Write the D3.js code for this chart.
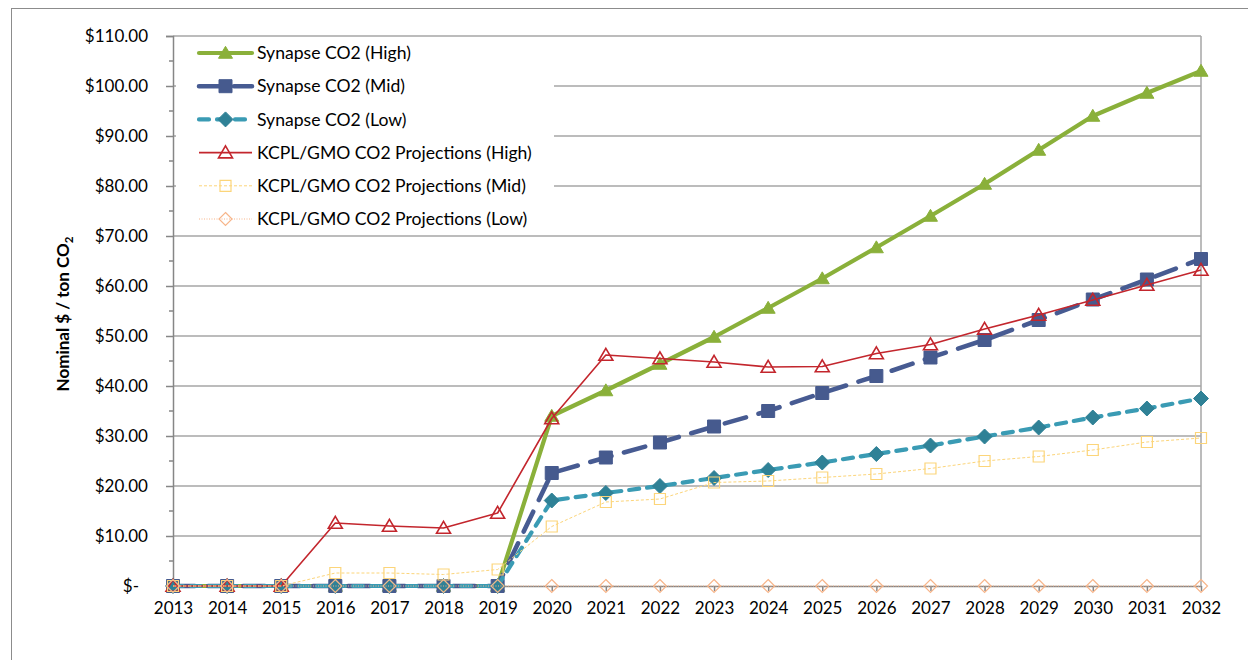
<!DOCTYPE html>
<html>
<head>
<meta charset="utf-8">
<script src="https://cdn.jsdelivr.net/npm/d3@7"></script>
<style>
  html, body { margin: 0; padding: 0; background: #fff; }
  svg { display: block; font-family: Lato, "Open Sans", sans-serif; }
</style>
</head>
<body>
<svg id="chart" width="1248" height="660"></svg>
<script>
// Carbon price projections, nominal $ per ton CO2
const years = ["2013","2014","2015","2016","2017","2018","2019","2020","2021","2022",
               "2023","2024","2025","2026","2027","2028","2029","2030","2031","2032"];

const synapseHigh = [0,0,0,0,0,0,0,34.0,39.1,44.4,49.8,55.6,61.5,67.7,74.0,80.4,87.2,94.0,98.6,103.0];
const synapseMid  = [0,0,0,0,0,0,0,22.6,25.7,28.7,31.9,35.0,38.6,42.0,45.7,49.2,53.2,57.3,61.3,65.4];
const synapseLow  = [0,0,0,0,0,0,0,17.1,18.6,20.0,21.6,23.2,24.7,26.4,28.1,29.9,31.7,33.7,35.5,37.5];
const kcplHigh    = [0,0,0,12.6,12.0,11.6,14.6,33.5,46.2,45.5,44.8,43.8,43.9,46.5,48.3,51.4,54.2,57.2,60.2,63.2];
const kcplMid     = [0,0,0,2.6,2.6,2.3,3.3,11.9,16.8,17.4,20.7,21.0,21.7,22.4,23.5,25.0,25.9,27.2,28.8,29.6];
const kcplLow     = [0,0,0,0,0,0,0,0,0,0,0,0,0,0,0,0,0,0,0,0];

const seriesNames = [
  "Synapse CO2 (High)",
  "Synapse CO2 (Mid)",
  "Synapse CO2 (Low)",
  "KCPL/GMO CO2 Projections (High)",
  "KCPL/GMO CO2 Projections (Mid)",
  "KCPL/GMO CO2 Projections (Low)"
];
const yTickValues = [0,10,20,30,40,50,60,70,80,90,100,110];

// Visual style per series (line + marker)
const styles = [
  { line: "#8AB03A", width: 4.2, dash: null,    cap: "round", marker: "triangle", fill: "#8AB03A", stroke: "#8AB03A", size: 14, sw: 1 },
  { line: "#475B92", width: 4.6, dash: "22,13", cap: "round", marker: "square",   fill: "#465A8E", stroke: "#465A8E", size: 13, sw: 1 },
  { line: "#3A9BB4", width: 4.2, dash: "10,8",  cap: "round", marker: "diamond",  fill: "#2F8196", stroke: "#2F8196", size: 15, sw: 1 },
  { line: "#C3262D", width: 1.6, dash: null,    cap: "butt",  marker: "triangle", fill: "none",    stroke: "#C3262D", size: 14, sw: 1.6 },
  { line: "#FCD57A", width: 1.0, dash: "3,2",   cap: "butt",  marker: "square",   fill: "none",    stroke: "#FCD57A", size: 11, sw: 1.2 },
  { line: "#F7B58A", width: 1.0, dash: "1,1.5", cap: "butt",  marker: "diamond",  fill: "none",    stroke: "#F7B58A", size: 13, sw: 1.2 }
];

const seriesValues = [synapseHigh, synapseMid, synapseLow, kcplHigh, kcplMid, kcplLow];

const svg = d3.select("#chart");

// Outer chart frame
svg.append("rect")
  .attr("x", 11.5).attr("y", 8.5)
  .attr("width", 1300).attr("height", 700)
  .attr("fill", "#fff").attr("stroke", "#8C8C8C").attr("stroke-width", 1);

const plot = { left: 173, right: 1201, top: 36, bottom: 586 };

const x = d3.scalePoint().domain(years).range([plot.left, plot.right]);
const y = d3.scaleLinear().domain([0, 110]).range([plot.bottom, plot.top]);

// Horizontal gridlines
svg.append("g")
  .selectAll("line")
  .data(yTickValues.filter(v => v > 0))
  .join("line")
  .attr("x1", plot.left).attr("x2", plot.right)
  .attr("y1", d => y(d)).attr("y2", d => y(d))
  .attr("stroke", "#A6A6A6").attr("stroke-width", 1.5);

// Right edge of plot area
svg.append("line")
  .attr("x1", plot.right).attr("x2", plot.right)
  .attr("y1", plot.top).attr("y2", plot.bottom)
  .attr("stroke", "#A6A6A6").attr("stroke-width", 1.5);

// Y axis: major ticks with labels, minor ticks in between
const yAxis = d3.axisLeft(y)
  .tickValues(yTickValues)
  .tickSize(7)
  .tickPadding(18)
  .tickFormat(d => d === 0 ? "$-" : "$" + d3.format(".2f")(d));
const yG = svg.append("g").attr("transform", `translate(${plot.left},0)`).call(yAxis);
yG.select(".domain").attr("stroke", "#868686").attr("stroke-width", 1.5);
yG.selectAll(".tick line").attr("stroke", "#868686").attr("stroke-width", 1.5);
yG.selectAll(".tick text")
  .attr("font-family", "Lato, sans-serif")
  .attr("font-size", 17)
  .attr("fill", "#000")
  .attr("dx", d => d === 0 ? -9 : 0);

const minorTicks = d3.range(5, 110, 10);
svg.append("g")
  .selectAll("line")
  .data(minorTicks)
  .join("line")
  .attr("x1", plot.left - 4).attr("x2", plot.left)
  .attr("y1", d => y(d)).attr("y2", d => y(d))
  .attr("stroke", "#868686").attr("stroke-width", 1.5);

// X axis
const xAxis = d3.axisBottom(x).tickSize(5).tickPadding(11).tickSizeOuter(0);
const xG = svg.append("g").attr("transform", `translate(0,${plot.bottom})`).call(xAxis);
xG.select(".domain").attr("stroke", "#868686").attr("stroke-width", 1.5);
xG.selectAll(".tick line").attr("stroke", "#868686").attr("stroke-width", 1.5);
xG.selectAll(".tick text")
  .attr("font-family", "Lato, sans-serif")
  .attr("font-size", 17)
  .attr("fill", "#000");

// Y axis title with subscript
const yTitle = svg.append("text")
  .attr("transform", "translate(69,314) rotate(-90)")
  .attr("text-anchor", "middle")
  .attr("font-family", "Lato, sans-serif")
  .attr("font-weight", "bold")
  .attr("font-size", 17)
  .attr("fill", "#000");
yTitle.append("tspan").text("Nominal $ / ton CO");
yTitle.append("tspan").attr("font-size", 11.5).attr("dy", 4).text("2");

// Marker path generator
function markerPath(kind, s) {
  const h = s / 2;
  if (kind === "triangle") {
    return `M0,${-h * 0.95}L${h},${h * 0.75}L${-h},${h * 0.75}Z`;
  }
  if (kind === "square") {
    return `M${-h},${-h}L${h},${-h}L${h},${h}L${-h},${h}Z`;
  }
  return `M0,${-h}L${h},0L0,${h}L${-h},0Z`;
}

const line = d3.line()
  .x((d, i) => x(years[i]))
  .y(d => y(d));

const seriesG = svg.append("g");
seriesValues.forEach((vals, si) => {
  const st = styles[si];
  const g = seriesG.append("g");
  g.append("path")
    .datum(vals)
    .attr("d", line)
    .attr("fill", "none")
    .attr("stroke", st.line)
    .attr("stroke-width", st.width)
    .attr("stroke-linecap", st.cap)
    .attr("stroke-linejoin", "round")
    .attr("stroke-dasharray", st.dash);
  g.selectAll("path.mk")
    .data(vals)
    .join("path")
    .attr("class", "mk")
    .attr("transform", (d, i) => `translate(${x(years[i])},${y(d)})`)
    .attr("d", markerPath(st.marker, st.size))
    .attr("fill", st.fill)
    .attr("stroke", st.stroke)
    .attr("stroke-width", st.sw);
});

// Legend (white box over the gridlines)
const legend = svg.append("g");
legend.append("rect")
  .attr("x", 176).attr("y", 37)
  .attr("width", 378).attr("height", 196)
  .attr("fill", "#fff");

const legendY0 = 53, legendStep = 33.2;
seriesNames.forEach((name, i) => {
  const st = styles[i];
  const ly = legendY0 + i * legendStep;
  const item = legend.append("g");
  item.append("line")
    .attr("x1", 199).attr("x2", 252)
    .attr("y1", ly).attr("y2", ly)
    .attr("stroke", st.line)
    .attr("stroke-width", st.width)
    .attr("stroke-linecap", st.cap)
    .attr("stroke-dasharray", st.dash);
  item.append("path")
    .attr("transform", `translate(225.5,${ly})`)
    .attr("d", markerPath(st.marker, st.size))
    .attr("fill", st.fill)
    .attr("stroke", st.stroke)
    .attr("stroke-width", st.sw);
  item.append("text")
    .attr("x", 257).attr("y", ly)
    .attr("dy", "0.35em")
    .attr("font-family", "Lato, sans-serif")
    .attr("font-size", 17.6)
    .attr("fill", "#000")
    .text(name);
});
</script>
</body>
</html>
